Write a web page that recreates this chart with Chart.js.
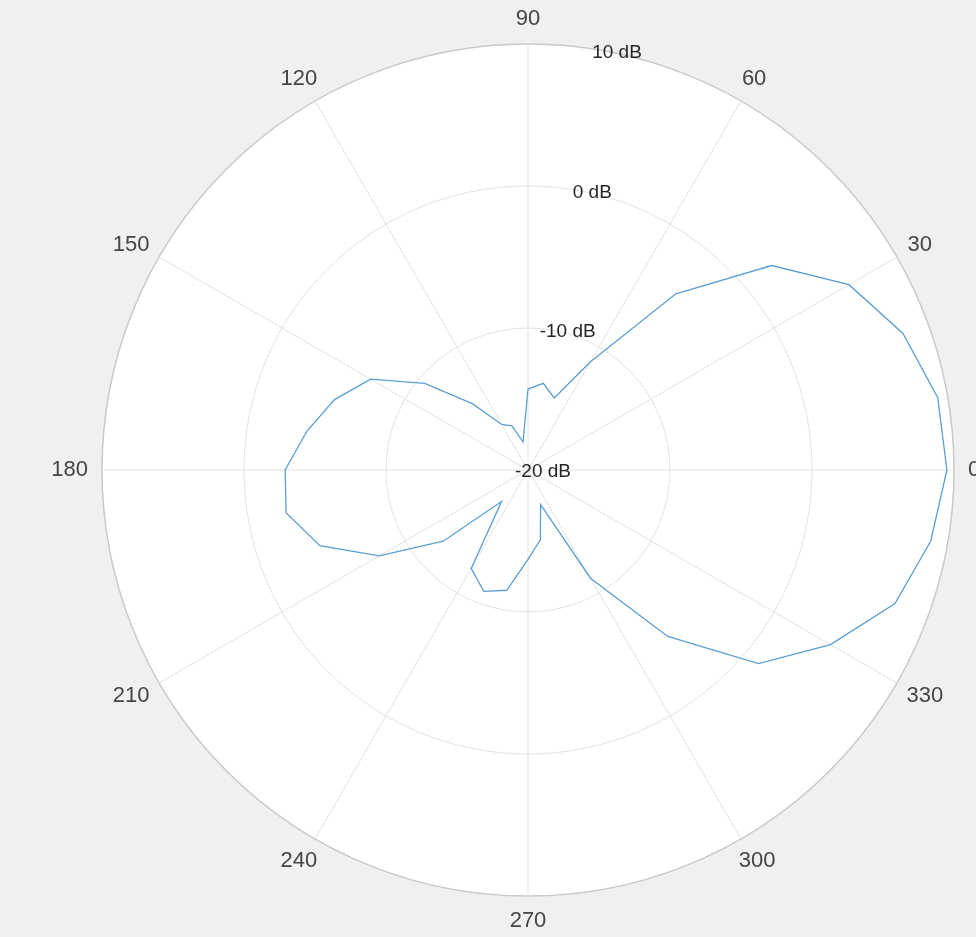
<!DOCTYPE html>
<html>
<head>
<meta charset="utf-8">
<script src="https://cdn.jsdelivr.net/npm/chart.js@4/dist/chart.umd.min.js"></script>
<style>
  html, body { margin: 0; padding: 0; background: #f0f0f0; }
  #wrap { width: 976px; height: 937px; position: relative; }
  canvas { display: block; }
</style>
</head>
<body>
<div id="wrap"><canvas id="c" width="976" height="937"></canvas></div>
<script>
// ---- data (angle in degrees, counter-clockwise from the right; gain in dB) ----
const angles = [0, 10, 20, 30, 40, 50, 60, 70, 80, 90, 100, 110, 120, 130, 140, 150, 160, 170,
                180, 190, 200, 210, 220, 230, 240, 250, 260, 270, 280, 290, 300, 310, 320, 330, 340, 350];
const gainDb = [9.5, 9.3, 8.1, 6.1, 2.4, -3.8, -11.2, -14.6, -13.8, -14.3, -18.0, -16.7, -16.3, -13.9, -10.5, -7.2, -5.5, -4.2,
                -2.9, -2.7, -4.4, -7.9, -12.2, -17.1, -12.0, -10.9, -11.4, -13.7, -15.0, -17.4, -11.2, -4.7, 1.2, 4.6, 7.5, 8.8];
const angleTicks = [0, 30, 60, 90, 120, 150, 180, 210, 240, 270, 300, 330];
const angleTickLabels = ['0', '30', '60', '90', '120', '150', '180', '210', '240', '270', '300', '330'];
const rTicks = [-20, -10, 0, 10];
const rTickLabels = ['-20 dB', '-10 dB', '0 dB', '10 dB'];
const rMin = -20, rMax = 10;
const rAxisAngle = 80;

// Chart.js radar goes clockwise from startAngle; build clockwise order (0, 350, 340, ...)
const N = angles.length;
const step = 360 / N;
const cwLabels = [];
const cwData = [];
for (let i = 0; i < N; i++) {
  const a = (360 - i * step) % 360;
  cwLabels.push(String(a));
  cwData.push(gainDb[angles.indexOf(a)]);
}
const idxOfAngle = a => Math.round(((360 - a) % 360) / step);

const FONT = '"Liberation Sans", Arial, Helvetica, sans-serif';

const labelsPlugin = {
  id: 'polarLabels',
  afterDraw(chart) {
    const s = chart.scales.r;
    const ctx = chart.ctx;
    ctx.save();
    // angle labels
    ctx.font = '22px ' + FONT;
    ctx.fillStyle = '#454545';
    ctx.textAlign = 'center';
    ctx.textBaseline = 'middle';
    angleTicks.forEach((a, k) => {
      const i = idxOfAngle(a);
      const p = s.getPointPosition(i, s.drawingArea + 14);
      const d = Math.hypot(p.x - s.xCenter, p.y - s.yCenter);
      const c = (p.x - s.xCenter) / d, sn = (p.y - s.yCenter) / d;
      const txt = angleTickLabels[k];
      const hw = ctx.measureText(txt).width / 2;
      const hh = 11;
      ctx.fillText(txt, p.x + hw * c, p.y + hh * sn);
    });
    // radial labels
    ctx.font = '19px ' + FONT;
    ctx.fillStyle = '#262626';
    rTicks.forEach((v, k) => {
      const p = s.getPointPosition(idxOfAngle(rAxisAngle), s.getDistanceFromCenterForValue(v));
      ctx.fillText(rTickLabels[k], p.x + 15, p.y + 2);
    });
    ctx.restore();
  }
};

new Chart(document.getElementById('c'), {
  type: 'radar',
  data: {
    labels: cwLabels,
    datasets: [{
      data: cwData,
      borderColor: '#5a9fd5',
      borderWidth: 1.3,
      fill: false,
      pointRadius: 0,
      pointHoverRadius: 0,
      tension: 0
    }]
  },
  options: {
    responsive: false,
    animation: false,
    devicePixelRatio: 1,
    layout: { padding: { left: 102, right: 22, top: 44, bottom: 41 } },
    plugins: { legend: { display: false }, tooltip: { enabled: false } },
    scales: {
      r: {
        min: rMin,
        max: rMax,
        startAngle: 90,
        backgroundColor: '#ffffff',
        ticks: { display: false, stepSize: 10 },
        pointLabels: { display: false },
        grid: {
          circular: true,
          color: ctx => (ctx.tick && ctx.tick.value === rMax) ? '#c9c9c9' : '#e3e3e3',
          lineWidth: ctx => (ctx.tick && ctx.tick.value === rMax) ? 1.5 : 1
        },
        angleLines: {
          display: true,
          color: '#e3e3e3',
          lineWidth: ctx => (Number(ctx.label) % 30 === 0) ? 1 : 0
        }
      }
    }
  },
  plugins: [labelsPlugin]
});
</script>
</body>
</html>
